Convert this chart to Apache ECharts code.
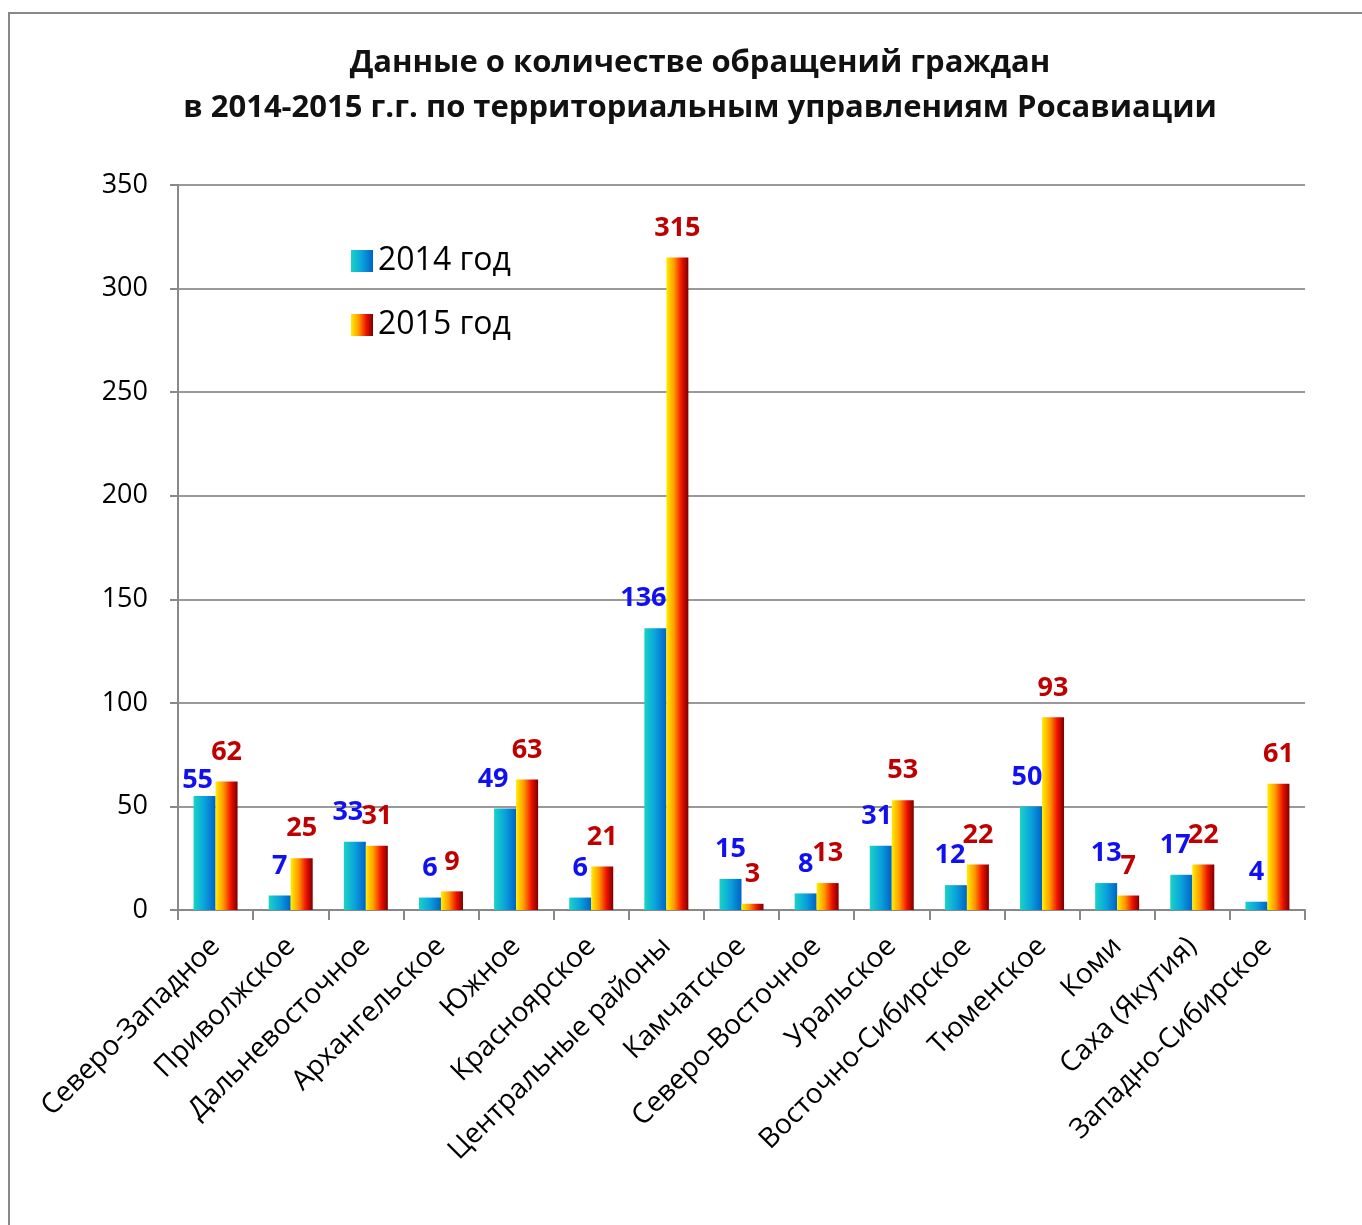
<!DOCTYPE html>
<html><head><meta charset="utf-8">
<script src="https://cdn.jsdelivr.net/npm/echarts@6/dist/echarts.min.js"></script>
<style>
html,body{margin:0;padding:0;background:#fff;overflow:hidden}
#frame{position:absolute;left:8px;top:12px;width:2000px;height:2000px;border-left:2px solid #888;border-top:2px solid #888;}
#c{position:absolute;left:0;top:0;width:1362px;height:1225px}
</style></head>
<body>
<div id="frame"></div>
<div id="c"></div>
<script>
const categories = ['Северо-Западное','Приволжское','Дальневосточное','Архангельское','Южное','Красноярское','Центральные районы','Камчатское','Северо-Восточное','Уральское','Восточно-Сибирское','Тюменское','Коми','Саха (Якутия)','Западно-Сибирское'];
const values2014 = [55,7,33,6,49,6,136,15,8,31,12,50,13,17,4];
const values2015 = [62,25,31,9,63,21,315,3,13,53,22,93,7,22,61];
const seriesNames = ['2014 год','2015 год'];
const yTicks = {min:0,max:350,interval:50};

const grad2014 = new echarts.graphic.LinearGradient(0,0,1,0,[
  {offset:0,color:'#19D3C5'},{offset:0.5,color:'#0AA2DC'},{offset:1,color:'#0062C6'}]);
const grad2015 = new echarts.graphic.LinearGradient(0,0,1,0,[
  {offset:0,color:'#FFEF00'},{offset:0.35,color:'#FF9A00'},{offset:0.7,color:'#EE1000'},{offset:1,color:'#7A0000'}]);

const font = '"Open Sans", "DejaVu Sans", sans-serif';
// label horizontal nudges as placed in the original chart (2014 series)
const shift2014 = [-7,0,-7,0,-12,0,-12,0,0,-4,-6,-4,0,-6,0];
const data2014 = values2014.map((v,i)=>{
  const o = {value:v,label:{offset:[shift2014[i],0]}};
  if(i===0) o.label.distance = 2;
  return o;
});

const chart = echarts.init(document.getElementById('c'));
chart.setOption({
  animation:false,
  title:{
    text:'Данные о количестве обращений граждан\nв 2014-2015 г.г. по территориальным управлениям Росавиации',
    left:695, textAlign:'center', top:36,
    textStyle:{fontFamily:font,fontWeight:'bold',fontSize:31,color:'#111',lineHeight:45}
  },
  legend:{
    orient:'vertical', left:346, top:240, itemGap:32, itemWidth:22, itemHeight:22,
    icon:'rect',
    textStyle:{fontFamily:font,fontSize:32,color:'#000'},
    data:seriesNames
  },
  grid:{left:178,right:57,top:185,bottom:315,containLabel:false},
  xAxis:{
    type:'category', data:categories,
    axisLine:{lineStyle:{color:'#888',width:2}},
    axisTick:{show:true,length:10,alignWithLabel:false,lineStyle:{color:'#888',width:2}},
    axisLabel:{rotate:45,interval:0,fontFamily:font,fontSize:28,color:'#000',margin:32}
  },
  yAxis:{
    type:'value', min:yTicks.min, max:yTicks.max, interval:yTicks.interval,
    axisLine:{show:true,lineStyle:{color:'#888',width:2}},
    axisTick:{show:true,length:8,lineStyle:{color:'#888',width:2}},
    splitLine:{lineStyle:{color:'#999',width:2}},
    axisLabel:{fontFamily:font,fontSize:27,color:'#000',margin:30}
  },
  series:[
    {name:seriesNames[0],type:'bar',data:data2014,barWidth:22,barGap:'0%',
     itemStyle:{color:grad2014},
     label:{show:true,position:'top',distance:16,fontFamily:font,fontWeight:'bold',fontSize:27,color:'#1010F0'}},
    {name:seriesNames[1],type:'bar',data:values2015,barWidth:22,
     itemStyle:{color:grad2015},
     label:{show:true,position:'top',distance:16,fontFamily:font,fontWeight:'bold',fontSize:27,color:'#C00000'}}
  ]
});
</script>
</body></html>
